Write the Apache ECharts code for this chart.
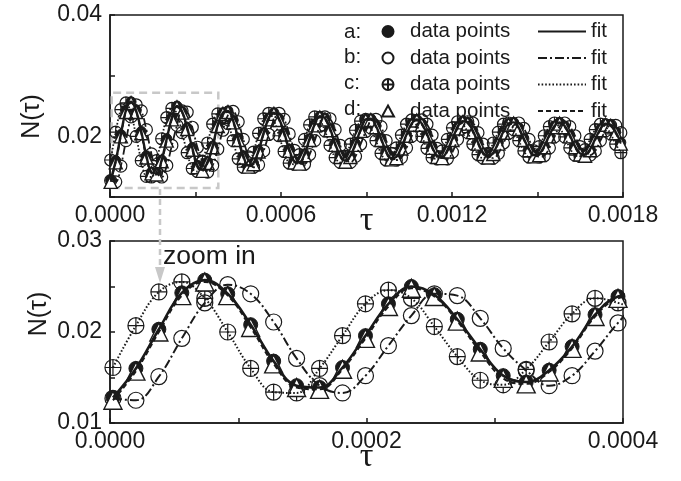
<!DOCTYPE html>
<html><head><meta charset="utf-8">
<script src="https://cdn.jsdelivr.net/npm/echarts@6/dist/echarts.min.js"></script>
<style>html,body{margin:0;padding:0;background:#fff}#c{width:681px;height:481px}</style>
</head><body><div id="c"></div>
<script>
// sample times in microseconds
const tauMicro = [2.3,20.2,38.1,56.0,73.9,91.8,109.7,127.6,145.5,163.4,
181.3,199.2,217.1,235.0,252.9,270.8,288.7,306.6,324.5,342.4,
360.3,378.2,396.1,414.0,431.9,449.8,467.7,485.6,503.5,521.4,
539.3,557.2,575.1,593.0,610.9,628.8,646.7,664.6,682.5,700.4,
718.3,736.2,754.1,772.0,789.9,807.8,825.7,843.6,861.5,879.4,
897.3,915.2,933.1,951.0,968.9,986.8,1004.7,1022.6,1040.5,1058.4,
1076.3,1094.2,1112.1,1130.0,1147.9,1165.8,1183.7,1201.6,1219.5,1237.4,
1255.3,1273.2,1291.1,1309.0,1326.9,1344.8,1362.7,1380.6,1398.5,1416.4,
1434.3,1452.2,1470.1,1488.0,1505.9,1523.8,1541.7,1559.6,1577.5,1595.4,
1613.3,1631.2,1649.1,1667.0,1684.9,1702.8,1720.7,1738.6,1756.5,1774.4,
1792.3];
const seriesA = [0.0128,0.0160,0.0203,0.0243,0.0257,0.0242,0.0208,0.0168,0.0141,0.0139,
0.0161,0.0196,0.0231,0.0250,0.0241,0.0214,0.0181,0.0152,0.0145,0.0158,
0.0184,0.0219,0.0239,0.0242,0.0226,0.0197,0.0168,0.0152,0.0156,0.0177,
0.0206,0.0230,0.0239,0.0229,0.0206,0.0179,0.0159,0.0157,0.0171,0.0196,
0.0220,0.0233,0.0230,0.0213,0.0188,0.0168,0.0160,0.0168,0.0188,0.0211,
0.0228,0.0229,0.0217,0.0197,0.0175,0.0164,0.0166,0.0182,0.0203,0.0221,
0.0228,0.0221,0.0204,0.0183,0.0168,0.0166,0.0177,0.0196,0.0215,0.0225,
0.0223,0.0209,0.0190,0.0173,0.0167,0.0173,0.0190,0.0208,0.0221,0.0223,
0.0214,0.0196,0.0179,0.0169,0.0171,0.0184,0.0202,0.0217,0.0223,0.0217,
0.0202,0.0184,0.0172,0.0170,0.0179,0.0196,0.0212,0.0221,0.0219,0.0207,
0.0190];
const seriesB = [0.0127,0.0125,0.0151,0.0193,0.0232,0.0252,0.0242,0.0211,0.0171,0.0141,
0.0133,0.0152,0.0185,0.0218,0.0242,0.0240,0.0215,0.0182,0.0158,0.0141,
0.0152,0.0179,0.0210,0.0235,0.0241,0.0224,0.0195,0.0166,0.0149,0.0153,
0.0176,0.0203,0.0227,0.0238,0.0228,0.0204,0.0177,0.0156,0.0154,0.0170,
0.0193,0.0217,0.0232,0.0229,0.0211,0.0185,0.0165,0.0157,0.0167,0.0187,
0.0208,0.0225,0.0228,0.0216,0.0193,0.0172,0.0161,0.0165,0.0181,0.0200,
0.0218,0.0227,0.0220,0.0202,0.0180,0.0165,0.0163,0.0174,0.0195,0.0214,
0.0224,0.0222,0.0206,0.0187,0.0170,0.0164,0.0172,0.0189,0.0205,0.0218,
0.0222,0.0213,0.0195,0.0176,0.0166,0.0168,0.0181,0.0199,0.0216,0.0222,
0.0216,0.0201,0.0183,0.0171,0.0169,0.0176,0.0193,0.0209,0.0218,0.0218,
0.0206];
const seriesC = [0.0161,0.0207,0.0244,0.0255,0.0237,0.0200,0.0160,0.0134,0.0133,0.0160,
0.0196,0.0231,0.0246,0.0237,0.0206,0.0173,0.0147,0.0142,0.0159,0.0189,
0.0220,0.0237,0.0232,0.0221,0.0193,0.0163,0.0149,0.0153,0.0174,0.0205,
0.0229,0.0238,0.0226,0.0201,0.0175,0.0156,0.0154,0.0170,0.0195,0.0219,
0.0232,0.0227,0.0209,0.0185,0.0165,0.0157,0.0167,0.0187,0.0210,0.0225,
0.0228,0.0214,0.0193,0.0172,0.0161,0.0165,0.0181,0.0202,0.0220,0.0227,
0.0218,0.0200,0.0180,0.0165,0.0163,0.0176,0.0195,0.0214,0.0224,0.0220,
0.0206,0.0187,0.0170,0.0164,0.0172,0.0189,0.0207,0.0220,0.0222,0.0211,
0.0193,0.0176,0.0166,0.0170,0.0183,0.0201,0.0216,0.0222,0.0214,0.0199,
0.0181,0.0169,0.0167,0.0178,0.0195,0.0211,0.0220,0.0216,0.0204,0.0187,
0.0173];
const seriesD = [0.0125,0.0157,0.0200,0.0240,0.0255,0.0240,0.0205,0.0165,0.0139,0.0137,
0.0159,0.0193,0.0228,0.0248,0.0239,0.0212,0.0178,0.0149,0.0143,0.0156,
0.0182,0.0217,0.0237,0.0240,0.0223,0.0194,0.0165,0.0150,0.0154,0.0175,
0.0204,0.0228,0.0237,0.0227,0.0203,0.0176,0.0157,0.0155,0.0169,0.0194,
0.0218,0.0231,0.0228,0.0210,0.0186,0.0166,0.0158,0.0166,0.0186,0.0209,
0.0226,0.0227,0.0215,0.0194,0.0173,0.0162,0.0164,0.0180,0.0201,0.0219,
0.0226,0.0219,0.0201,0.0181,0.0166,0.0164,0.0175,0.0194,0.0213,0.0223,
0.0221,0.0207,0.0188,0.0171,0.0165,0.0171,0.0188,0.0206,0.0219,0.0221,
0.0212,0.0194,0.0177,0.0167,0.0169,0.0182,0.0200,0.0215,0.0221,0.0215,
0.0200,0.0182,0.0170,0.0168,0.0177,0.0194,0.0210,0.0219,0.0217,0.0205,
0.0188];
const seriesNames = ['a', 'b', 'c', 'd'];
const legendLetters = ['a:', 'b:', 'c:', 'd:'];
const topXLabels = ['0.0000', '0.0006', '0.0012', '0.0018'];
const topYLabels = ['0.02', '0.04'];
const botXLabels = ['0.0000', '0.0002', '0.0004'];
const botYLabels = ['0.01', '0.02', '0.03'];
const zoomBoxX = [0.000006, 0.00038];
const zoomBoxY = [0.0115, 0.0272];

const tau = tauMicro.map(v => v * 1e-6);
const values = [seriesA, seriesB, seriesC, seriesD];

const INK = '#1a1a1a';
const SANS = 'Liberation Sans, Arial, sans-serif';
const SERIF = 'Liberation Serif, Times New Roman, serif';
const plusCircle = 'path://M10,0A10,10,0,1,1,-10,0A10,10,0,1,1,10,0ZM-10,0L10,0M0,-10L0,10';
const markerStyles = [
  {symbol: 'circle', itemStyle: {color: INK, borderColor: INK, borderWidth: 1, opacity: 1}},
  {symbol: 'circle', itemStyle: {color: 'rgba(255,255,255,0)', borderColor: INK, borderWidth: 1.2, opacity: 1}},
  {symbol: plusCircle, itemStyle: {color: 'rgba(255,255,255,0)', borderColor: INK, borderWidth: 1.2, opacity: 1}},
  {symbol: 'triangle', itemStyle: {color: '#fff', borderColor: INK, borderWidth: 1.4, opacity: 1}}
];
const sizesTop = [10, 12, 12, 13];
const sizesBottom = [14, 16, 16, 18];
const lineTypes = ['solid', [9, 3, 2, 3], [1.6, 2], [5, 3]];

function fmt(list) {
  return v => {
    for (const s of list) { if (Math.abs(parseFloat(s) - v) < 1e-9) return s; }
    return '';
  };
}
function xAxisCfg(grid, max, interval, labels, gap) {
  return {
    type: 'value', gridIndex: grid, min: 0, max: max, interval: interval,
    name: 'τ', nameLocation: 'middle', nameGap: gap, nameMoveOverlap: false,
    nameTextStyle: {fontFamily: SERIF, fontSize: 34, color: INK},
    axisLine: {lineStyle: {color: INK, width: 1.5}},
    axisTick: {inside: true, length: 5, lineStyle: {color: INK, width: 1.5}},
    axisLabel: {formatter: fmt(labels), fontFamily: SANS, fontSize: 23, color: INK, margin: 7,
      showMinLabel: true, showMaxLabel: true},
    splitLine: {show: false}
  };
}
function yAxisCfg(grid, min, max, interval, labels) {
  return {
    type: 'value', gridIndex: grid, min: min, max: max, interval: interval,
    axisLine: {show: true, lineStyle: {color: INK, width: 1.5}},
    axisTick: {show: true, inside: true, length: 5, lineStyle: {color: INK, width: 1.5}},
    axisLabel: {formatter: fmt(labels), fontFamily: SANS, fontSize: 23, color: INK, margin: 8,
      showMinLabel: true, showMaxLabel: true},
    splitLine: {show: false}
  };
}

const series = [];
[0, 1].forEach(g => {
  const big = g === 1;
  seriesNames.forEach((nm, k) => {
    const s = {
      type: 'scatter', name: nm, xAxisIndex: g, yAxisIndex: g,
      symbol: markerStyles[k].symbol, symbolSize: big ? sizesBottom[k] : sizesTop[k],
      itemStyle: markerStyles[k].itemStyle,
      data: tau.map((t, i) => [t, values[k][i]]), z: 2
    };
    if (g === 0 && k === 0) {
      s.markArea = {
        silent: true,
        itemStyle: {color: 'rgba(0,0,0,0)', borderColor: '#c8c8c8', borderWidth: 2.5, borderType: [8, 5], opacity: 1},
        data: [[{coord: [zoomBoxX[0], zoomBoxY[0]]}, {coord: [zoomBoxX[1], zoomBoxY[1]]}]]
      };
    }
    series.push(s);
  });
  seriesNames.forEach((nm, k) => {
    series.push({
      type: 'line', name: nm + ' fit', xAxisIndex: g, yAxisIndex: g,
      symbol: 'none', smooth: 0.4,
      itemStyle: {color: INK},
      lineStyle: {color: INK, width: k === 0 ? (big ? 2.6 : 2.4) : (big ? 2 : 1.8), type: lineTypes[k]},
      data: tau.map((t, i) => [t, values[k][i]]), z: 3
    });
  });
});

const graphic = [];
legendLetters.forEach((L, i) => {
  graphic.push({type: 'text', left: 344, top: 21.5 + i * 25.8,
    style: {text: L, font: '20.5px ' + SANS, fill: INK}});
});
graphic.push({type: 'text', left: 163, top: 243,
  style: {text: 'zoom in', font: '26.5px ' + SANS, fill: INK}});
graphic.push({type: 'text', x: 32.5, y: 116.5, rotation: Math.PI / 2,
  style: {text: 'N(τ)', font: '25px ' + SANS, fill: INK, align: 'center', verticalAlign: 'middle'}});
graphic.push({type: 'text', x: 39, y: 314, rotation: Math.PI / 2,
  style: {text: 'N(τ)', font: '25px ' + SANS, fill: INK, align: 'center', verticalAlign: 'middle'}});
graphic.push({type: 'line', shape: {x1: 160, y1: 189, x2: 160, y2: 269},
  style: {stroke: '#c8c8c8', lineWidth: 2.5, lineDash: [6, 4]}});
graphic.push({type: 'polygon', shape: {points: [[155, 267], [165, 267], [160, 283]]},
  style: {fill: '#c8c8c8'}});

const chart = echarts.init(document.getElementById('c'), null, {renderer: 'canvas'});
chart.setOption({
  animation: false,
  backgroundColor: '#fff',
  grid: [
    {left: 110, right: 58, top: 15, height: 182, show: true, borderColor: INK, borderWidth: 1.5},
    {left: 110, right: 58, top: 241, height: 182, show: true, borderColor: INK, borderWidth: 1.5}
  ],
  xAxis: [xAxisCfg(0, 0.0018, 0.0003, topXLabels, 7), xAxisCfg(1, 0.0004, 0.0001, botXLabels, 17)],
  yAxis: [yAxisCfg(0, 0.01, 0.04, 0.01, topYLabels), yAxisCfg(1, 0.01, 0.03, 0.005, botYLabels)],
  legend: [
    {data: seriesNames, orient: 'vertical', left: 381, top: 21, align: 'left', padding: 0,
      itemWidth: 12, itemHeight: 11, itemGap: 5.5, selectedMode: false,
      formatter: () => 'data points',
      textStyle: {fontFamily: SANS, fontSize: 20.5, color: INK, lineHeight: 20, padding: [0, 0, 0, 11]}},
    {data: seriesNames.map(n => n + ' fit'), orient: 'vertical', left: 537, top: 21, align: 'left', padding: 0,
      itemWidth: 48, itemHeight: 11, itemGap: 5.5, selectedMode: false,
      itemStyle: {color: 'rgba(0,0,0,0)', borderWidth: 0, opacity: 0},
      formatter: () => 'fit',
      textStyle: {fontFamily: SANS, fontSize: 20.5, color: INK, lineHeight: 20}}
  ],
  graphic: graphic,
  series: series
});
</script></body></html>
